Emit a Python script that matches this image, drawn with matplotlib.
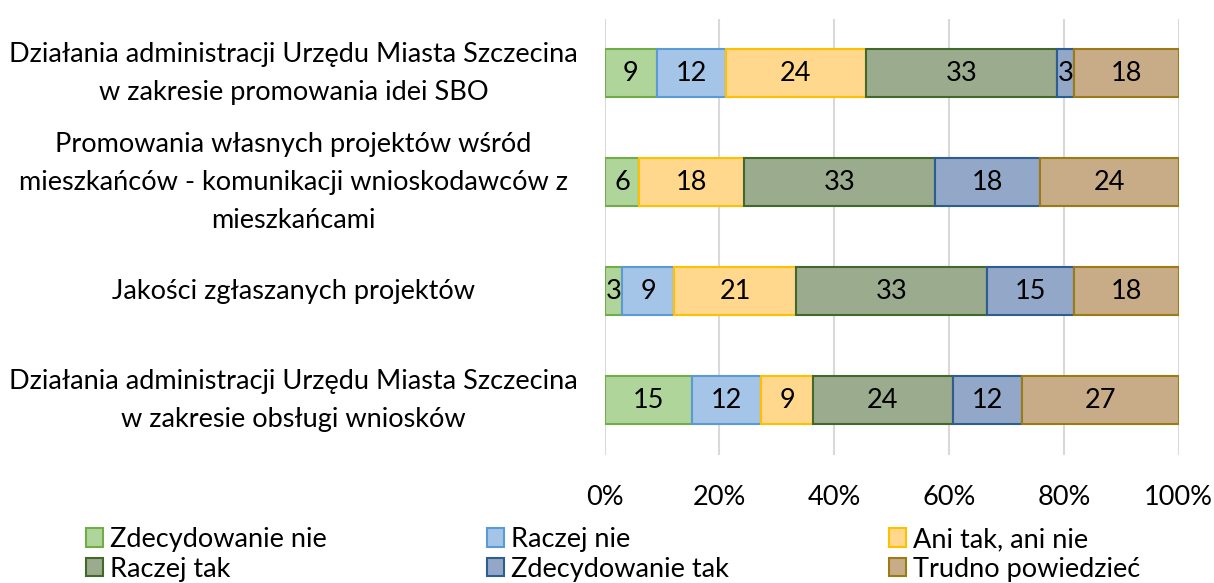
import matplotlib
matplotlib.use('Agg')
import matplotlib.pyplot as plt
import numpy as np

plt.rcParams['font.family'] = ['Lato', 'DejaVu Sans']

# kategorie (od góry do dołu)
kategorie = [
    'Działania administracji Urzędu Miasta Szczecina\nw zakresie promowania idei SBO',
    'Promowania własnych projektów wśród\nmieszkańców - komunikacji wnioskodawców z\nmieszkańcami',
    'Jakości zgłaszanych projektów',
    'Działania administracji Urzędu Miasta Szczecina\nw zakresie obsługi wniosków',
]
serie = ['Zdecydowanie nie', 'Raczej nie', 'Ani tak, ani nie',
         'Raczej tak', 'Zdecydowanie tak', 'Trudno powiedzieć']

zdecydowanie_nie = [9, 6, 3, 15]
raczej_nie = [12, 0, 9, 12]
ani_tak_ani_nie = [24, 18, 21, 9]
raczej_tak = [33, 33, 33, 24]
zdecydowanie_tak = [3, 18, 15, 12]
trudno_powiedziec = [18, 24, 18, 27]

wartosci = [zdecydowanie_nie, raczej_nie, ani_tak_ani_nie,
            raczej_tak, zdecydowanie_tak, trudno_powiedziec]

kolory = ['#B0D59A', '#A4C4E8', '#FFD88E', '#9AAB8E', '#93A8C8', '#C8AB87']
krawedzie = ['#70AD47', '#5B9BD5', '#FFC000', '#43682B', '#2E5D92', '#9C7A14']

FS = 19.5

fig = plt.figure(figsize=(12.14, 5.83), dpi=100)
ax = fig.add_axes([0.498, 0.220, 0.473, 0.748])

dane = np.array(wartosci, dtype=float)
suma = dane.sum(axis=0)
procent = dane / suma * 100
y = np.arange(len(kategorie))

left = np.zeros(len(kategorie))
uchwyty = []
for i, nazwa in enumerate(serie):
    b = ax.barh(y, procent[i], left=left, height=0.44, color=kolory[i],
                edgecolor=krawedzie[i], linewidth=1.5, label=nazwa, zorder=3)
    uchwyty.append(b)
    for j in range(len(kategorie)):
        if dane[i, j] > 0:
            ax.text(left[j] + procent[i, j] / 2, y[j], f'{int(dane[i, j])}',
                    ha='center', va='center', fontsize=FS, color='black', zorder=4)
    left += procent[i]

ax.set_xlim(0, 100)
ax.set_ylim(len(kategorie) - 0.5, -0.5)
ax.set_xticks(np.arange(0, 101, 20))
ax.set_xticklabels([f'{t}%' for t in range(0, 101, 20)], fontsize=FS)
ax.set_yticks([])
ax.grid(axis='x', color='#D9D9D9', linewidth=1.5, zorder=0)
for s in ax.spines.values():
    s.set_visible(False)
ax.tick_params(axis='x', length=0, pad=22)

for j, k in enumerate(kategorie):
    ax.text(-0.542, y[j], k, transform=ax.get_yaxis_transform(), ha='center',
            va='center', multialignment='center', fontsize=FS, linespacing=1.65)

# legenda wierszami: kolejność dla ncol=3
kolejnosc = [0, 3, 1, 4, 2, 5]
fig.legend([uchwyty[i] for i in kolejnosc], [serie[i] for i in kolejnosc],
           ncol=3, loc='upper left', bbox_to_anchor=(0.0705, 0.096), frameon=False,
           fontsize=FS, handlelength=0.65, handleheight=0.65, handletextpad=0.25,
           columnspacing=5.9, labelspacing=0.18, borderpad=0, borderaxespad=0)

fig.savefig('out.png', dpi=100)
